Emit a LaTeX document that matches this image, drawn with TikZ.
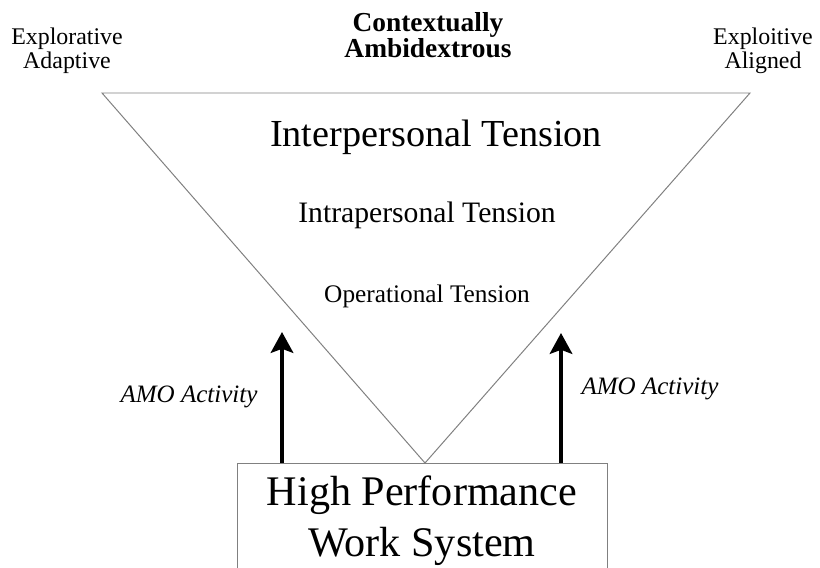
\documentclass[tikz,border=0pt]{standalone}
\usepackage{fontspec}
\setmainfont{Liberation Serif}
\usetikzlibrary{arrows.meta}
\usetikzlibrary{positioning}
\tikzset{
  edge line/.style={draw=black!50,line width=0.7pt},
  corner label/.style={align=center,font=\fontsize{17}{17}\selectfont},
  tension label/.style={anchor=base},
  amo label/.style={anchor=base,font=\fontsize{17.8}{20}\selectfont\itshape},
  amo arrow/.style={line width=2.8pt,-{Stealth[length=5.2mm,width=5.6mm,inset=1mm]}}
}

\begin{document}
\begin{tikzpicture}
\clip (0,0) rectangle (20.5,14.175);
\fill[white] (0,0) rectangle (20.5,14.175);

\node[edge line,fill=white,minimum width=9.25cm,minimum height=2.85cm,anchor=north,align=center,inner sep=0pt,
  font=\fontsize{30}{36}\selectfont] (hpws) at (10.55,2.6) {High Performance\\Work System};

\coordinate (expl) at (2.55,11.85);
\coordinate (expt) at (18.75,11.85);
\coordinate (apex) at (10.625,2.6);
\draw[edge line,line join=miter] (expl) -- (expt) -- (apex) -- cycle;

\node[corner label] (adapt) at (1.675,12.9) {Explorative\\Adaptive};
\node[corner label] (align) at (19.075,12.9) {Exploitive\\Aligned};
\node[align=center,font=\fontsize{19.5}{16.8}\selectfont\bfseries] (ctx) at (10.7,13.3) {Contextually\\Ambidextrous};

\node[tension label,font=\fontsize{27.2}{28}\selectfont] (inter) at (10.9,10.5) {Interpersonal Tension};
\node[tension label,font=\fontsize{21.1}{24}\selectfont] (intra) at (10.675,8.6) {Intrapersonal Tension};
\node[tension label,font=\fontsize{18}{20}\selectfont] (oper) at (10.675,6.6) {Operational Tension};

\coordinate (amoL) at (7.05,5.875);
\coordinate (amoR) at (14.025,5.85);
\draw[amo arrow] (amoL |- hpws.north) -- (amoL);
\draw[amo arrow] (amoR |- hpws.north) -- (amoR);
\node[amo label] (amoLtext) at (4.725,4.1) {AMO Activity};
\node[amo label] (amoRtext) at (16.25,4.3) {AMO Activity};

\end{tikzpicture}
\end{document}
